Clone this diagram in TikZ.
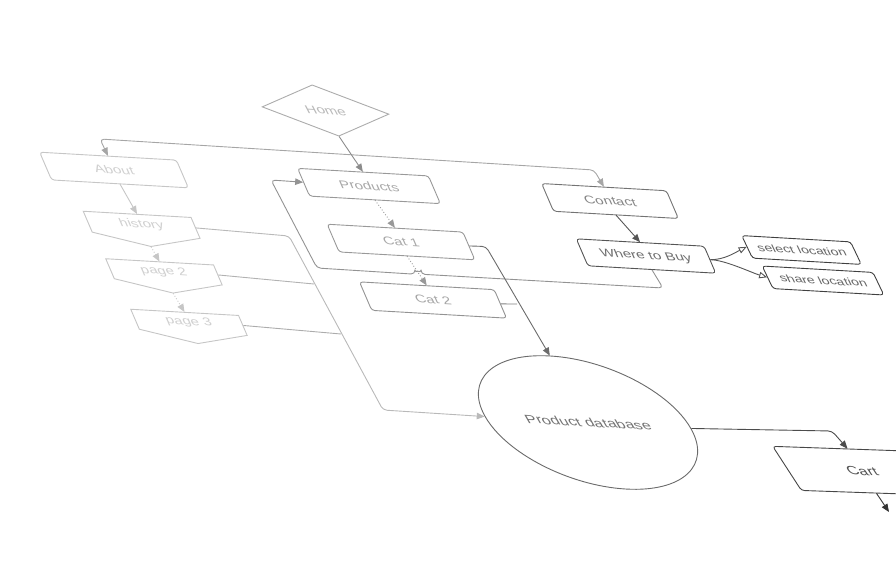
\documentclass[tikz,border=0pt]{standalone}
\usepackage{fontspec}
\setmainfont{Liberation Sans}
\usepackage{xcolor}
\usetikzlibrary{arrows.meta,shapes.geometric,shapes.symbols}

\definecolor{farline}{HTML}{C6C6C6}
\definecolor{fartext}{HTML}{D0D0D0}
\definecolor{midline}{HTML}{999999}
\definecolor{midtext}{HTML}{A8A8A8}
\definecolor{nearline}{HTML}{555555}
\definecolor{neartext}{HTML}{6E6E6E}

\begin{document}
\begin{tikzpicture}[
  x=1pt, y=-1pt,
  font=\fontsize{15}{18}\selectfont,
  tilt/.style={rotate=-3.3, xslant=#1, yscale=0.73},
  tilt/.default=-0.5,
  box/.style={draw, fill=white, rounded corners=3pt, inner sep=0pt, minimum width=#1, minimum height=37pt, line width=0.9pt},
  page/.style={draw, fill=white, signal, signal to=south, signal from=nowhere, signal pointer angle=149,
    inner sep=0pt, minimum width=108pt, minimum height=#1, line width=0.9pt, anchor=north,
    draw=farline, text=fartext},
  arr/.style={-{Triangle[length=8pt,width=6.5pt]}, line width=0.9pt, rounded corners=4pt},
  dots/.style={arr, dotted},
  hollow/.style={-{Triangle[open,length=8pt,width=6.5pt]}, line width=0.9pt, draw=nearline}
]
\useasboundingbox (0,0) rectangle (896,574);

% far nodes
\node[diamond, draw=gray!65, text=gray!55, fill=white, line width=0.9pt, inner sep=0pt,
  minimum width=127pt, minimum height=68pt, tilt=-0.6] (home) at (325.5,110.5) {Home};
\node[box=137pt, tilt, draw=farline, text=fartext] (about) at (114,170) {About};
\node[page=34pt, tilt] (history) at (137,214) {history};
\node[page=33pt, tilt] (page2) at (159.5,261.5) {page 2};
\node[page=33pt, tilt] (page3) at (184.5,312) {page 3};

% products
\node[box=131pt, tilt, draw=midline, text=midtext] (products) at (369,186) {Products};
\node[box=136pt, tilt, draw=midline, text=midtext] (cat1) at (401,242) {Cat 1};
\node[box=135pt, minimum height=38pt, tilt, draw=gray!85, text=gray!70] (cat2) at (433,300) {Cat 2};

% contact
\node[box=125pt, tilt, draw=gray!110, text=gray!95] (contact) at (610,201) {Contact};
\node[box=128pt, minimum height=36pt, tilt, draw=nearline, text=neartext] (where) at (646,256) {Where to Buy};
\node[box=109pt, minimum height=30pt, tilt=-0.55, draw=black!75, text=black!60,
  font=\fontsize{14}{17}\selectfont] (select) at (801.5,250) {select location};
\node[box=111pt, minimum height=30pt, tilt=-0.55, draw=black!75, text=black!60,
  font=\fontsize{14}{17}\selectfont] (share) at (823,280.5) {share location};

% database and cart
\node[ellipse, draw=black!58, text=black!55, fill=white, line width=0.9pt, inner sep=0pt,
  minimum width=206pt, minimum height=176pt, tilt=-0.65, font=\fontsize{16}{19}\selectfont] (db) at (588,422.5) {Product database};
\node[box=150pt, minimum height=59pt, rotate=1.3, tilt=-0.7, draw=black!72, text=black!68,
  font=\fontsize{16}{19}\selectfont] (cart) at (862,471) {Cart};
\coordinate (cartout) at (889,512);

% connectors
\draw[arr, draw=gray!70, {Triangle[length=8pt,width=6.5pt]}-{Triangle[length=8pt,width=6.5pt]}]
  (about.north) -- (100,139) -- (594,170) -- (contact.north);
\draw[arr, draw=gray!90] (home.south) -- (products.north);
\draw[arr, draw=farline] (about.south) -- (history.north);
\draw[dots, draw=farline] (history.south) -- (page2.north);
\draw[dots, draw=farline] (page2.south) -- (page3.north);
\draw[dots, draw=midline] (products.south) -- (cat1.north);
\draw[dots, draw=midline] (cat1.south) -- (cat2.north);
\draw[arr, draw=gray!85] (where.south) -- (663,288) -- (421,274.2)
  arc[start angle=0, end angle=-180, radius=3] -- (317,268) -- (271,180) -- (products.west);
\draw[arr, draw=gray!55] (history.east) -- (289,236) -- (383,410) -- (db.west);
\draw[line width=0.9pt, draw=gray!60] (page2.east) -- (314,284);
\draw[line width=0.9pt, draw=gray!65] (page3.east) -- (341,334);
\draw[arr, draw=black!58] (cat1.east) -- (486,246.5) -- (db.north);
\draw[line width=0.9pt, draw=black!50] (cat2.east) -- (517,304);
\draw[arr, draw=black!70] (db.east) -- (832,431) -- (cart.north);
\draw[arr, draw=black!80] (cart.south) -- (cartout);
\draw[arr, draw=nearline] (contact.south) -- (where.north);
\draw[hollow] (where.east) .. controls +(14,0) and +(-12,6) .. (select.west);
\draw[hollow] (where.east) .. controls +(14,0) and +(-14,-4) .. (share.west);
\end{tikzpicture}
\end{document}
